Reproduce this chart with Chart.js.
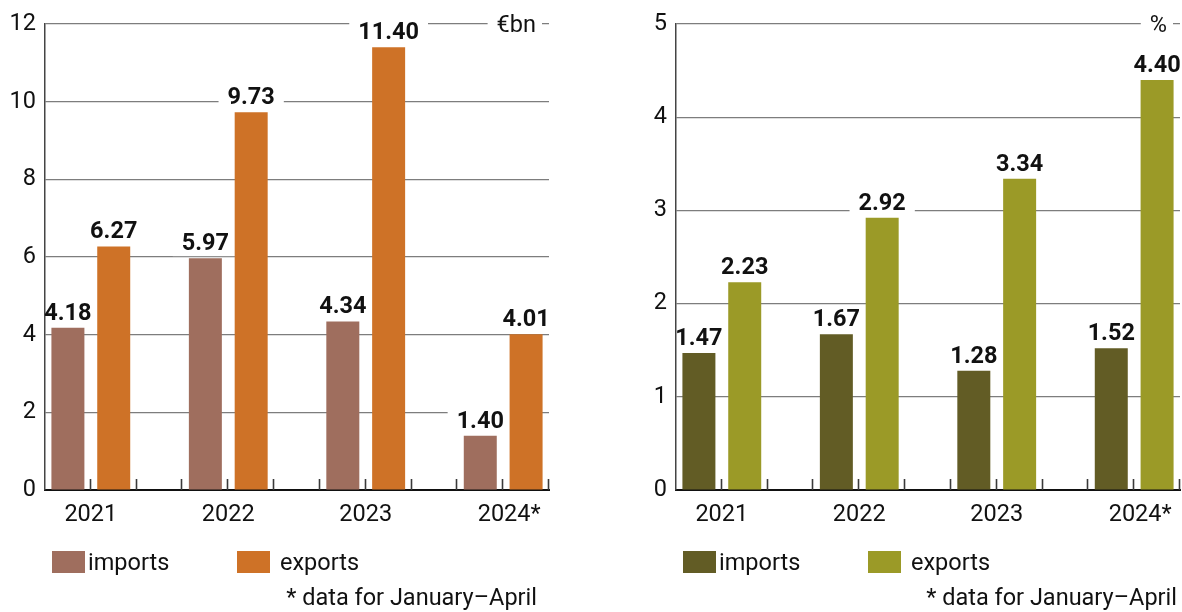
<!DOCTYPE html>
<html>
<head>
<meta charset="utf-8">
<script src="https://cdn.jsdelivr.net/npm/chart.js@4/dist/chart.umd.min.js"></script>
<style>
  html, body { margin: 0; padding: 0; background: #ffffff; }
  body { width: 1182px; height: 612px; position: relative; overflow: hidden; }
  canvas { position: absolute; top: 0; }
  #tradeValue { left: 0; }
  #tradeShare { left: 631px; }
</style>
</head>
<body>
<canvas id="tradeValue" width="551" height="612"></canvas>
<canvas id="tradeShare" width="551" height="612"></canvas>
<script>
// Years shown on both panels (2024 covers January–April only)
const years = ['2021', '2022', '2023', '2024*'];

// Trade in € billion
const valueImports = [4.18, 5.97, 4.34, 1.40];
const valueExports = [6.27, 9.73, 11.40, 4.01];
const valueTicks = [0, 2, 4, 6, 8, 10, 12];

// Trade as a share, %
const shareImports = [1.47, 1.67, 1.28, 1.52];
const shareExports = [2.23, 2.92, 3.34, 4.40];
const shareTicks = [0, 1, 2, 3, 4, 5];

const seriesNames = ['imports', 'exports'];
const footnote = '* data for January\u2013April';

const FONT = 'Roboto, "Liberation Sans", "DejaVu Sans", sans-serif';
const FS = 23.5;
const CANVAS_W = 551;
const Y_AXIS_W = 45;
const PAD_RIGHT = 2;
const SLOTS = years.length * 3 - 1;         // imports, exports, gap per year
const SLOT_W = (CANVAS_W - Y_AXIS_W - PAD_RIGHT) / SLOTS;

// Spread each year over three slots: imports, exports, empty gap
function slotLabels() {
  const out = [];
  years.forEach((y, i) => {
    out.push(y, '');
    if (i < years.length - 1) out.push('');
  });
  return out;
}
function slotSeries(values, shift) {
  const out = new Array(SLOTS).fill(null);
  values.forEach((v, i) => { out[i * 3 + shift] = v; });
  return out;
}

// Value labels on white boxes, boxes first so they cut the grid lines only
const valueLabels = {
  id: 'valueLabels',
  beforeDatasetsDraw(chart) {
    const ctx = chart.ctx;
    const area = chart.chartArea;
    ctx.save();
    ctx.font = 'bold ' + FS + 'px ' + FONT;
    chart.data.datasets.forEach((ds, di) => {
      chart.getDatasetMeta(di).data.forEach((el, i) => {
        const v = ds.data[i];
        if (v === null) return;
        const txt = v.toFixed(2);
        const w = ctx.measureText(txt).width;
        const cy = el.y - 15;
        const x0 = Math.max(el.x - w / 2 - 9, area.left + 1.5);
        const x1 = el.x + w / 2 + 9;
        ctx.fillStyle = '#ffffff';
        ctx.fillRect(x0, cy - 13, x1 - x0, 26);
      });
    });
    ctx.restore();
  },
  afterDatasetsDraw(chart) {
    const ctx = chart.ctx;
    ctx.save();
    ctx.font = 'bold ' + FS + 'px ' + FONT;
    ctx.fillStyle = '#111111';
    ctx.textAlign = 'center';
    ctx.textBaseline = 'middle';
    chart.data.datasets.forEach((ds, di) => {
      chart.getDatasetMeta(di).data.forEach((el, i) => {
        const v = ds.data[i];
        if (v === null) return;
        ctx.fillText(v.toFixed(2), el.x, el.y - 14);
      });
    });
    ctx.restore();
  }
};

// Slot ticks standing up from the category axis
const slotTicks = {
  id: 'slotTicks',
  afterDatasetsDraw(chart) {
    const ctx = chart.ctx;
    const xs = chart.scales.x;
    const bottom = chart.chartArea.bottom;
    ctx.save();
    ctx.strokeStyle = '#3a3a3a';
    ctx.lineWidth = 1.6;
    for (let i = 1; i <= SLOTS; i++) {
      const x = Math.round(xs.getPixelForValue(i - 1) + SLOT_W / 2) - 0.5;
      ctx.beginPath();
      ctx.moveTo(x, bottom);
      ctx.lineTo(x, bottom - 11);
      ctx.stroke();
    }
    ctx.restore();
  }
};

// Unit tag, legend and footnote
const panelText = {
  id: 'panelText',
  afterDraw(chart, args, opts) {
    const ctx = chart.ctx;
    const area = chart.chartArea;
    ctx.save();
    ctx.font = FS + 'px ' + FONT;
    ctx.textBaseline = 'middle';

    // unit at the right end of the top grid line
    const uw = ctx.measureText(opts.unit).width;
    const ux = area.left + 491;
    ctx.fillStyle = '#ffffff';
    ctx.fillRect(ux - uw - 9, area.top - 12, uw + 15, 24);
    ctx.fillStyle = '#111111';
    ctx.textAlign = 'right';
    ctx.fillText(opts.unit, ux, area.top + 2.5);

    // legend
    const ly = 551;
    const items = chart.data.datasets;
    const sx = [area.left + 7, area.left + 192];
    const tx = [36, 43];
    items.forEach((ds, i) => {
      ctx.fillStyle = ds.backgroundColor;
      ctx.fillRect(sx[i], ly, 33, 22);
      ctx.fillStyle = '#111111';
      ctx.textAlign = 'left';
      ctx.fillText(ds.label, sx[i] + tx[i], ly + 13);
    });

    // footnote
    ctx.textAlign = 'right';
    ctx.fillText(footnote, opts.footX, 599);
    ctx.restore();
  }
};

function buildPanel(id, imports, exports, ticks, colors, unit, footX) {
  const maxV = ticks[ticks.length - 1];
  const step = ticks[1] - ticks[0];
  return new Chart(document.getElementById(id), {
    type: 'bar',
    data: {
      labels: slotLabels(),
      datasets: [
        { label: seriesNames[0], data: slotSeries(imports, 0), backgroundColor: colors[0] },
        { label: seriesNames[1], data: slotSeries(exports, 1), backgroundColor: colors[1] }
      ]
    },
    options: {
      responsive: false,
      animation: false,
      devicePixelRatio: 1,
      layout: { padding: { left: 0, right: PAD_RIGHT, top: 24, bottom: 82 } },
      datasets: {
        bar: { grouped: false, barPercentage: 0.72, categoryPercentage: 1, borderWidth: 0 }
      },
      plugins: {
        legend: { display: false },
        tooltip: { enabled: false },
        panelText: { unit: unit, footX: footX }
      },
      scales: {
        x: {
          offset: true,
          grid: { display: false, drawTicks: false },
          border: { display: true, color: '#111111', width: 2 },
          ticks: {
            autoSkip: false,
            maxRotation: 0,
            padding: 11,
            labelOffset: SLOT_W / 2,
            color: '#111111',
            font: { family: FONT, size: FS },
            callback(value) {
              const lab = this.getLabelForValue(value);
              // keep the year centred, let the asterisk hang to the right
              return lab.endsWith('*') ? '\u2002' + lab : lab;
            }
          },
          afterFit(scale) { scale.height = 40; }
        },
        y: {
          min: 0,
          max: maxV,
          afterBuildTicks(scale) { scale.ticks = ticks.map(v => ({ value: v })); },
          grid: { color: '#7d7d7d', lineWidth: 1.2, drawTicks: false },
          border: { display: true, color: '#444444', width: 1.5 },
          ticks: {
            stepSize: step,
            padding: 9,
            color: '#111111',
            font: { family: FONT, size: FS }
          },
          afterFit(scale) { scale.width = Y_AXIS_W; }
        }
      }
    },
    plugins: [valueLabels, slotTicks, panelText]
  });
}

function drawAll() {
  buildPanel('tradeValue', valueImports, valueExports, valueTicks,
    ['#9f6e5e', '#ce7227'], '\u20acbn', 537);
  buildPanel('tradeShare', shareImports, shareExports, shareTicks,
    ['#625c25', '#9b9a27'], '%', 546);
}

if (document.fonts && document.fonts.load) {
  Promise.all([
    document.fonts.load('22px Roboto'),
    document.fonts.load('bold 22px Roboto')
  ]).then(drawAll, drawAll);
} else {
  drawAll();
}
</script>
</body>
</html>
